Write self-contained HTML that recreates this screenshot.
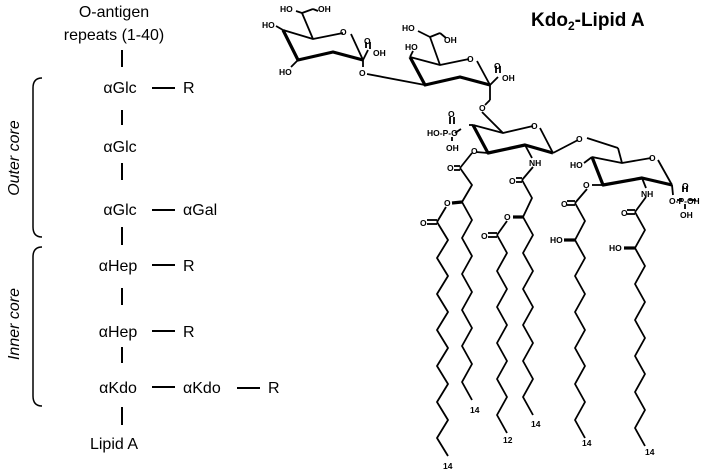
<!DOCTYPE html>
<html><head><meta charset="utf-8"><style>
html,body{margin:0;padding:0;background:#fff;}
svg{display:block;}
.t{font-family:"Liberation Sans",sans-serif;font-size:16px;fill:#000;}
.s{font-family:"Liberation Sans",sans-serif;font-size:8.5px;font-weight:bold;fill:#000;}
</style></head><body>
<svg width="712" height="471" viewBox="0 0 712 471" xmlns="http://www.w3.org/2000/svg">
<g class="t" text-anchor="middle">
<text x="114" y="17">O-antigen</text>
<text x="114" y="40">repeats (1-40)</text>
<text x="120" y="93">αGlc</text>
<text x="120" y="152">αGlc</text>
<text x="120" y="215">αGlc</text>
<text x="118" y="271">αHep</text>
<text x="118" y="337">αHep</text>
<text x="118" y="393">αKdo</text>
<text x="114" y="449">Lipid A</text>
</g>
<g class="t">
<text x="183" y="93">R</text>
<text x="183" y="215">αGal</text>
<text x="183" y="271">R</text>
<text x="183" y="337">R</text>
<text x="183" y="393">αKdo</text>
<text x="268" y="393">R</text>
</g>
<g stroke="#000" stroke-width="2" fill="none">
<line x1="122" y1="50" x2="122" y2="67"/>
<line x1="122" y1="110" x2="122" y2="125"/>
<line x1="122" y1="163" x2="122" y2="180"/>
<line x1="122" y1="227" x2="122" y2="245"/>
<line x1="122" y1="288" x2="122" y2="305"/>
<line x1="122" y1="347" x2="122" y2="363"/>
<line x1="122" y1="407" x2="122" y2="425"/>
<line x1="152" y1="88" x2="175" y2="88"/>
<line x1="152" y1="210" x2="175" y2="210"/>
<line x1="152" y1="265" x2="175" y2="265"/>
<line x1="152" y1="331" x2="175" y2="331"/>
<line x1="152" y1="387" x2="175" y2="387"/>
<line x1="237" y1="388" x2="260" y2="388"/>
</g>
<g stroke="#000" stroke-width="1.5" fill="none">
<path d="M42 78 Q33 78 33 88 L33 227 Q33 237 42 237"/>
<path d="M42 247 Q33 247 33 257 L33 396 Q33 406 42 406"/>
</g>
<g class="t" font-style="italic" text-anchor="middle">
<text transform="translate(19,158) rotate(-90)">Outer core</text>
<text transform="translate(19,324) rotate(-90)">Inner core</text>
</g>
<text x="531" y="26" font-family="Liberation Sans,sans-serif" font-weight="bold" font-size="19" fill="#000">Kdo<tspan font-size="12" dy="4">2</tspan><tspan dy="-4">-Lipid A</tspan></text>
<g stroke="#000" stroke-width="1.8" fill="none" stroke-linejoin="round">
<polyline points="283,30 313,39 343,33"/>
<polyline points="351,34 363,60"/>
<polyline points="363,60 333,52 298,60 283,30" stroke-width="3.2"/>
<line x1="283" y1="30" x2="276" y2="26"/>
<line x1="313" y1="39" x2="302" y2="13"/>
<line x1="302" y1="13" x2="296" y2="11"/>
<line x1="302" y1="13" x2="313" y2="9"/><line x1="313" y1="9" x2="318" y2="11"/>
<line x1="298" y1="60" x2="291" y2="67"/>
<line x1="363" y1="60" x2="368" y2="50"/>
<line x1="366" y1="48" x2="366" y2="42"/><line x1="370" y1="49" x2="370" y2="42"/>
<line x1="363" y1="60" x2="363" y2="67"/>
<line x1="367" y1="74" x2="425" y2="85"/>
<polyline points="410,57 440,65 469,59"/>
<polyline points="477,61 490,85"/>
<polyline points="490,85 460,77 425,85 410,57" stroke-width="3.2"/>
<line x1="410" y1="57" x2="413" y2="51"/>
<line x1="440" y1="65" x2="430" y2="37"/>
<line x1="430" y1="37" x2="418" y2="31"/>
<line x1="430" y1="37" x2="440" y2="33"/><line x1="440" y1="33" x2="446" y2="38"/>
<line x1="490" y1="85" x2="498" y2="77"/>
<line x1="496" y1="73" x2="496" y2="66"/><line x1="500" y1="73" x2="500" y2="66"/>
<line x1="490" y1="85" x2="490" y2="100"/><line x1="490" y1="100" x2="485" y2="105"/>
<line x1="482" y1="112" x2="503" y2="133"/>
<polyline points="473,125 503,133 533,126"/>
<polyline points="540,128 553,153"/>
<polyline points="553,153 525,145 488,153 473,125" stroke-width="3.2"/>
<line x1="473" y1="125" x2="469" y2="125"/>
<line x1="455" y1="133" x2="461" y2="129"/>
<line x1="450" y1="124" x2="450" y2="117"/><line x1="454" y1="124" x2="454" y2="117"/>
<line x1="452" y1="137" x2="452" y2="141"/>
<line x1="488" y1="153" x2="476" y2="152"/>
<line x1="525" y1="145" x2="532" y2="158"/>
<line x1="553" y1="153" x2="578" y2="140"/>
<line x1="587" y1="138" x2="618" y2="148"/><line x1="618" y1="148" x2="622" y2="163"/>
<polyline points="592,157 622,163 651,158"/>
<polyline points="658,160 672,185"/>
<polyline points="672,185 642,178 603,185 592,157" stroke-width="3.2"/>
<line x1="592" y1="157" x2="584" y2="163"/>
<line x1="603" y1="185" x2="592" y2="185"/>
<line x1="642" y1="178" x2="646" y2="188"/>
<line x1="672" y1="185" x2="673" y2="195"/>
<line x1="677" y1="200" x2="682" y2="200"/><line x1="689" y1="200" x2="696" y2="200"/>
<line x1="683" y1="192" x2="683" y2="186"/><line x1="687" y1="192" x2="687" y2="186"/>
<line x1="685" y1="204" x2="685" y2="209"/>
<line x1="472" y1="153" x2="460" y2="168"/>
<line x1="454" y1="166" x2="460" y2="166"/><line x1="454" y1="170" x2="460" y2="170"/>
<polyline points="460,168 472,185 462,202"/>
<line x1="462" y1="202" x2="452" y2="203" stroke-width="3.2"/>
<line x1="446" y1="207" x2="437" y2="222"/>
<line x1="427" y1="220" x2="437" y2="220"/><line x1="427" y1="224" x2="437" y2="224"/>
<polyline points="437,222 448,240 437,258 448,276 437,294 448,312 437,330 448,348 437,366 448,384 437,402 448,420 437,438 448,456"/>
<polyline points="462,202 472,220 462,238 472,256 462,274 472,292 462,310 472,328 462,346 472,364 462,382 472,400"/>
<line x1="533" y1="167" x2="522" y2="180"/>
<line x1="516" y1="178" x2="522" y2="178"/><line x1="516" y1="182" x2="522" y2="182"/>
<polyline points="522,180 532,198 523,217"/>
<line x1="523" y1="217" x2="513" y2="217" stroke-width="3.2"/>
<line x1="507" y1="221" x2="497" y2="235"/>
<line x1="488" y1="233" x2="497" y2="233"/><line x1="488" y1="237" x2="497" y2="237"/>
<polyline points="497,235 507,253 497,271 507,289 497,307 507,325 497,343 507,361 497,379 507,397 497,415 507,433"/>
<polyline points="523,217 533,235 523,253 533,271 523,289 533,307 523,325 533,343 523,361 533,379 523,397 533,415"/>
<line x1="587" y1="189" x2="575" y2="203"/>
<line x1="567" y1="201" x2="575" y2="201"/><line x1="567" y1="205" x2="575" y2="205"/>
<polyline points="575,203 585,221 575,240 585,258 575,276 585,294 575,312 585,330 575,348 585,366 575,384 585,402 575,420 585,438"/>
<line x1="575" y1="240" x2="564" y2="240" stroke-width="3.2"/>
<line x1="646" y1="197" x2="635" y2="212"/>
<line x1="627" y1="210" x2="635" y2="210"/><line x1="627" y1="214" x2="635" y2="214"/>
<polyline points="635,212 645,230 635,248 645,266 635,284 645,302 635,320 645,338 635,356 645,374 635,392 645,410 635,428 645,446"/>
<line x1="635" y1="248" x2="624" y2="248" stroke-width="3.2"/>
</g>
<g class="s">
<text x="280" y="12">HO</text><text x="318" y="12">OH</text>
<text x="262" y="28">HO</text>
<text x="340" y="35">O</text>
<text x="364" y="44">O</text><text x="373" y="56">OH</text>
<text x="279" y="75">HO</text>
<text x="359" y="76">O</text>
<text x="402" y="31">HO</text><text x="444" y="43">OH</text>
<text x="405" y="50">HO</text>
<text x="467" y="62">O</text>
<text x="494" y="69">O</text><text x="502" y="81">OH</text>
<text x="479" y="111">O</text>
<text x="448" y="117">O</text>
<text x="427" y="136">HO-P-O</text>
<text x="446" y="151">OH</text>
<text x="531" y="129">O</text>
<text x="471" y="154">O</text>
<text x="529" y="166">NH</text>
<text x="576" y="142">O</text>
<text x="570" y="168">HO</text>
<text x="649" y="161">O</text>
<text x="583" y="188">O</text>
<text x="641" y="197">NH</text>
<text x="669" y="204">O-P-OH</text>
<text x="682" y="189">O</text>
<text x="680" y="218">OH</text>
<text x="447" y="171">O</text>
<text x="444" y="206">O</text>
<text x="420" y="226">O</text>
<text x="509" y="184">O</text>
<text x="504" y="220">O</text>
<text x="481" y="239">O</text>
<text x="561" y="207">O</text>
<text x="621" y="216">O</text>
<text x="550" y="243">HO</text>
<text x="609" y="251">HO</text>
<text x="443" y="469">14</text>
<text x="470" y="413">14</text>
<text x="503" y="443">12</text>
<text x="531" y="427">14</text>
<text x="582" y="446">14</text>
<text x="645" y="455">14</text>
</g>
</svg>
</body></html>
